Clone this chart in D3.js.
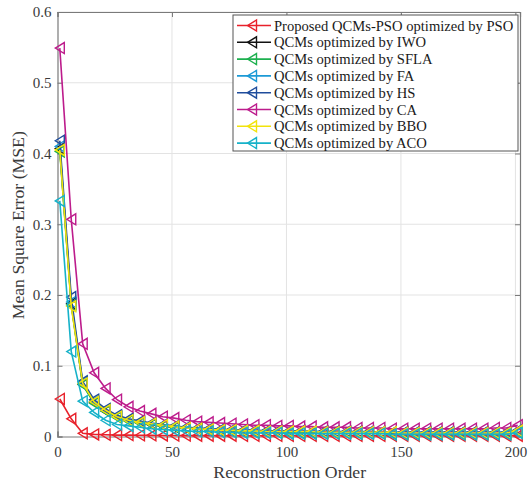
<!DOCTYPE html>
<html>
<head>
<meta charset="utf-8">
<script src="https://cdn.jsdelivr.net/npm/d3@7"></script>
<style>
  html, body { margin: 0; padding: 0; background: #fff; }
  svg { display: block; }
  text { font-family: "Liberation Serif", "Times New Roman", serif; }
</style>
</head>
<body>
<svg id="chart" width="528" height="486"></svg>
<script>
// Reconstruction orders (sampled every 5)
const orders = d3.range(1, 202, 5);

// MSE per optimizer
const msePSO  = [0.053, 0.025, 0.0045, 0.003, 0.0025, 0.002, 0.002, 0.0018, 0.0016, 0.0015, 0.0014, 0.0013, 0.0012, 0.0012, 0.0011, 0.0011, 0.001, 0.001, 0.001, 0.001, 0.001, 0.001, 0.001, 0.001, 0.001, 0.001, 0.001, 0.001, 0.001, 0.001, 0.001, 0.001, 0.001, 0.001, 0.001, 0.001, 0.001, 0.001, 0.001, 0.001, 0.0012];
const mseIWO  = [0.407, 0.188, 0.074, 0.048, 0.036, 0.028, 0.023, 0.020, 0.017, 0.015, 0.013, 0.012, 0.011, 0.010, 0.009, 0.009, 0.008, 0.008, 0.007, 0.007, 0.007, 0.007, 0.006, 0.006, 0.006, 0.006, 0.006, 0.006, 0.006, 0.005, 0.005, 0.005, 0.005, 0.005, 0.005, 0.005, 0.005, 0.005, 0.005, 0.005, 0.008];
const mseSFLA = [0.403, 0.186, 0.073, 0.047, 0.036, 0.027, 0.022, 0.019, 0.017, 0.015, 0.013, 0.012, 0.011, 0.010, 0.009, 0.008, 0.008, 0.007, 0.007, 0.007, 0.006, 0.006, 0.006, 0.006, 0.006, 0.006, 0.005, 0.005, 0.005, 0.005, 0.005, 0.005, 0.005, 0.005, 0.005, 0.005, 0.005, 0.005, 0.005, 0.005, 0.007];
const mseFA   = [0.410, 0.190, 0.076, 0.050, 0.038, 0.029, 0.024, 0.021, 0.018, 0.016, 0.014, 0.013, 0.012, 0.011, 0.010, 0.009, 0.009, 0.008, 0.008, 0.008, 0.007, 0.007, 0.007, 0.007, 0.007, 0.006, 0.006, 0.006, 0.006, 0.006, 0.006, 0.006, 0.006, 0.006, 0.006, 0.006, 0.006, 0.006, 0.006, 0.006, 0.008];
const mseHS   = [0.418, 0.197, 0.078, 0.052, 0.039, 0.030, 0.025, 0.022, 0.019, 0.017, 0.015, 0.013, 0.012, 0.011, 0.010, 0.010, 0.009, 0.009, 0.008, 0.008, 0.008, 0.008, 0.007, 0.007, 0.007, 0.007, 0.007, 0.007, 0.006, 0.006, 0.006, 0.006, 0.006, 0.006, 0.006, 0.006, 0.006, 0.006, 0.006, 0.006, 0.009];
const mseCA   = [0.549, 0.307, 0.131, 0.090, 0.068, 0.052, 0.042, 0.036, 0.032, 0.028, 0.026, 0.023, 0.021, 0.020, 0.019, 0.018, 0.017, 0.016, 0.016, 0.015, 0.015, 0.014, 0.014, 0.013, 0.013, 0.013, 0.012, 0.012, 0.012, 0.011, 0.011, 0.011, 0.011, 0.011, 0.011, 0.011, 0.011, 0.011, 0.012, 0.012, 0.016];
const mseBBO  = [0.405, 0.184, 0.075, 0.049, 0.037, 0.028, 0.023, 0.020, 0.018, 0.016, 0.014, 0.012, 0.011, 0.010, 0.009, 0.009, 0.008, 0.008, 0.007, 0.007, 0.007, 0.007, 0.007, 0.006, 0.006, 0.006, 0.006, 0.006, 0.006, 0.006, 0.005, 0.005, 0.005, 0.005, 0.005, 0.005, 0.005, 0.005, 0.005, 0.005, 0.008];
const mseACO  = [0.333, 0.120, 0.050, 0.034, 0.023, 0.017, 0.015, 0.013, 0.011, 0.010, 0.009, 0.008, 0.007, 0.007, 0.006, 0.006, 0.005, 0.005, 0.005, 0.005, 0.004, 0.004, 0.004, 0.004, 0.004, 0.004, 0.004, 0.004, 0.004, 0.003, 0.003, 0.003, 0.003, 0.003, 0.003, 0.003, 0.003, 0.003, 0.003, 0.003, 0.005];

const seriesNames = [
  "Proposed QCMs-PSO optimized by PSO",
  "QCMs optimized by IWO",
  "QCMs optimized by SFLA",
  "QCMs optimized by FA",
  "QCMs optimized by HS",
  "QCMs optimized by CA",
  "QCMs optimized by BBO",
  "QCMs optimized by ACO"
];
const seriesColors = ["#e8212b", "#111111", "#1db04f", "#1c9ad6", "#1f4d9c", "#bd1c8c", "#f2e30b", "#16b2c9"];
const seriesValues = [msePSO, mseIWO, mseSFLA, mseFA, mseHS, mseCA, mseBBO, mseACO];

const xTicks = [0, 50, 100, 150, 200];
const yTicks = [0, 0.1, 0.2, 0.3, 0.4, 0.5, 0.6];

const svg = d3.select("#chart");
const plot = { left: 57.5, right: 520, top: 12, bottom: 436.5 };

const x = d3.scaleLinear().domain([0, 202]).range([plot.left, plot.right]);
const y = d3.scaleLinear().domain([0, 0.6]).range([plot.bottom, plot.top]);

// grid
const grid = svg.append("g");
grid.selectAll(".gx").data(xTicks.slice(1)).enter().append("line")
  .attr("x1", d => x(d)).attr("x2", d => x(d))
  .attr("y1", plot.top).attr("y2", plot.bottom)
  .attr("stroke", "#e3e3e3").attr("stroke-width", 1);
grid.selectAll(".gy").data(yTicks.slice(1)).enter().append("line")
  .attr("x1", plot.left).attr("x2", plot.right)
  .attr("y1", d => y(d)).attr("y2", d => y(d))
  .attr("stroke", "#e3e3e3").attr("stroke-width", 1);

// axes
const fmtY = d => d === 0 ? "0" : d3.format(".1f")(d);
const xAxis = svg.append("g").attr("transform", `translate(0,${plot.bottom})`)
  .call(d3.axisBottom(x).tickValues(xTicks).tickSize(-5).tickPadding(10).tickFormat(d3.format("d")));
const yAxis = svg.append("g").attr("transform", `translate(${plot.left},0)`)
  .call(d3.axisLeft(y).tickValues(yTicks).tickSize(-5).tickPadding(6).tickFormat(fmtY));
const xAxisTop = svg.append("g").attr("transform", `translate(0,${plot.top})`)
  .call(d3.axisTop(x).tickValues(xTicks).tickSize(-5).tickFormat(""));
const yAxisRight = svg.append("g").attr("transform", `translate(${plot.right},0)`)
  .call(d3.axisRight(y).tickValues(yTicks).tickSize(-5).tickFormat(""));

[xAxis, yAxis, xAxisTop, yAxisRight].forEach(g => {
  g.attr("font-family", null);
  g.select(".domain").attr("stroke", "#7a7a7a").attr("stroke-width", 1.2);
  g.selectAll(".tick line").attr("stroke", "#7a7a7a");
  g.selectAll(".tick text").attr("fill", "#3a3a3a").attr("font-size", 15);
});

// axis titles
svg.append("text")
  .attr("x", (plot.left + plot.right) / 2 + 1).attr("y", 478)
  .attr("text-anchor", "middle").attr("font-size", 17.7).attr("fill", "#3a3a3a")
  .text("Reconstruction Order");
svg.append("text")
  .attr("transform", `translate(24,${(plot.top + plot.bottom) / 2 + 1}) rotate(-90)`)
  .attr("text-anchor", "middle").attr("font-size", 17.7).attr("fill", "#3a3a3a")
  .text("Mean Square Error (MSE)");

// marker: left-pointing open triangle
const tri = "M-4.5,0L4.5,-5.5L4.5,5.5Z";

const line = d3.line().x(d => x(d[0])).y(d => y(d[1]));
const seriesG = svg.append("g");
seriesValues.forEach((vals, i) => {
  const pts = orders.map((o, k) => [o, vals[k]]);
  const g = seriesG.append("g");
  g.append("path").attr("d", line(pts))
    .attr("fill", "none").attr("stroke", seriesColors[i]).attr("stroke-width", 1.6);
  g.selectAll("path.m").data(pts).enter().append("path").attr("class", "m")
    .attr("d", tri)
    .attr("transform", d => `translate(${x(d[0])},${y(d[1])})`)
    .attr("fill", "none").attr("stroke", seriesColors[i]).attr("stroke-width", 1.4);
});

// legend
const leg = svg.append("g");
const legX = 233, legY = 15, legW = 285, legH = 136, rowH = 16.8;
leg.append("rect").attr("x", legX).attr("y", legY).attr("width", legW).attr("height", legH)
  .attr("fill", "#fff").attr("stroke", "#555").attr("stroke-width", 1);
seriesNames.forEach((name, i) => {
  const cy = legY + 10.5 + i * rowH;
  leg.append("line").attr("x1", legX + 4).attr("x2", legX + 38).attr("y1", cy).attr("y2", cy)
    .attr("stroke", seriesColors[i]).attr("stroke-width", 1.6);
  leg.append("path").attr("d", tri).attr("transform", `translate(${legX + 19},${cy})`)
    .attr("fill", "none").attr("stroke", seriesColors[i]).attr("stroke-width", 1.4);
  leg.append("text").attr("x", legX + 41).attr("y", cy + 5)
    .attr("font-size", 14.6).attr("fill", "#1a1a1a").text(name);
});
</script>
</body>
</html>
